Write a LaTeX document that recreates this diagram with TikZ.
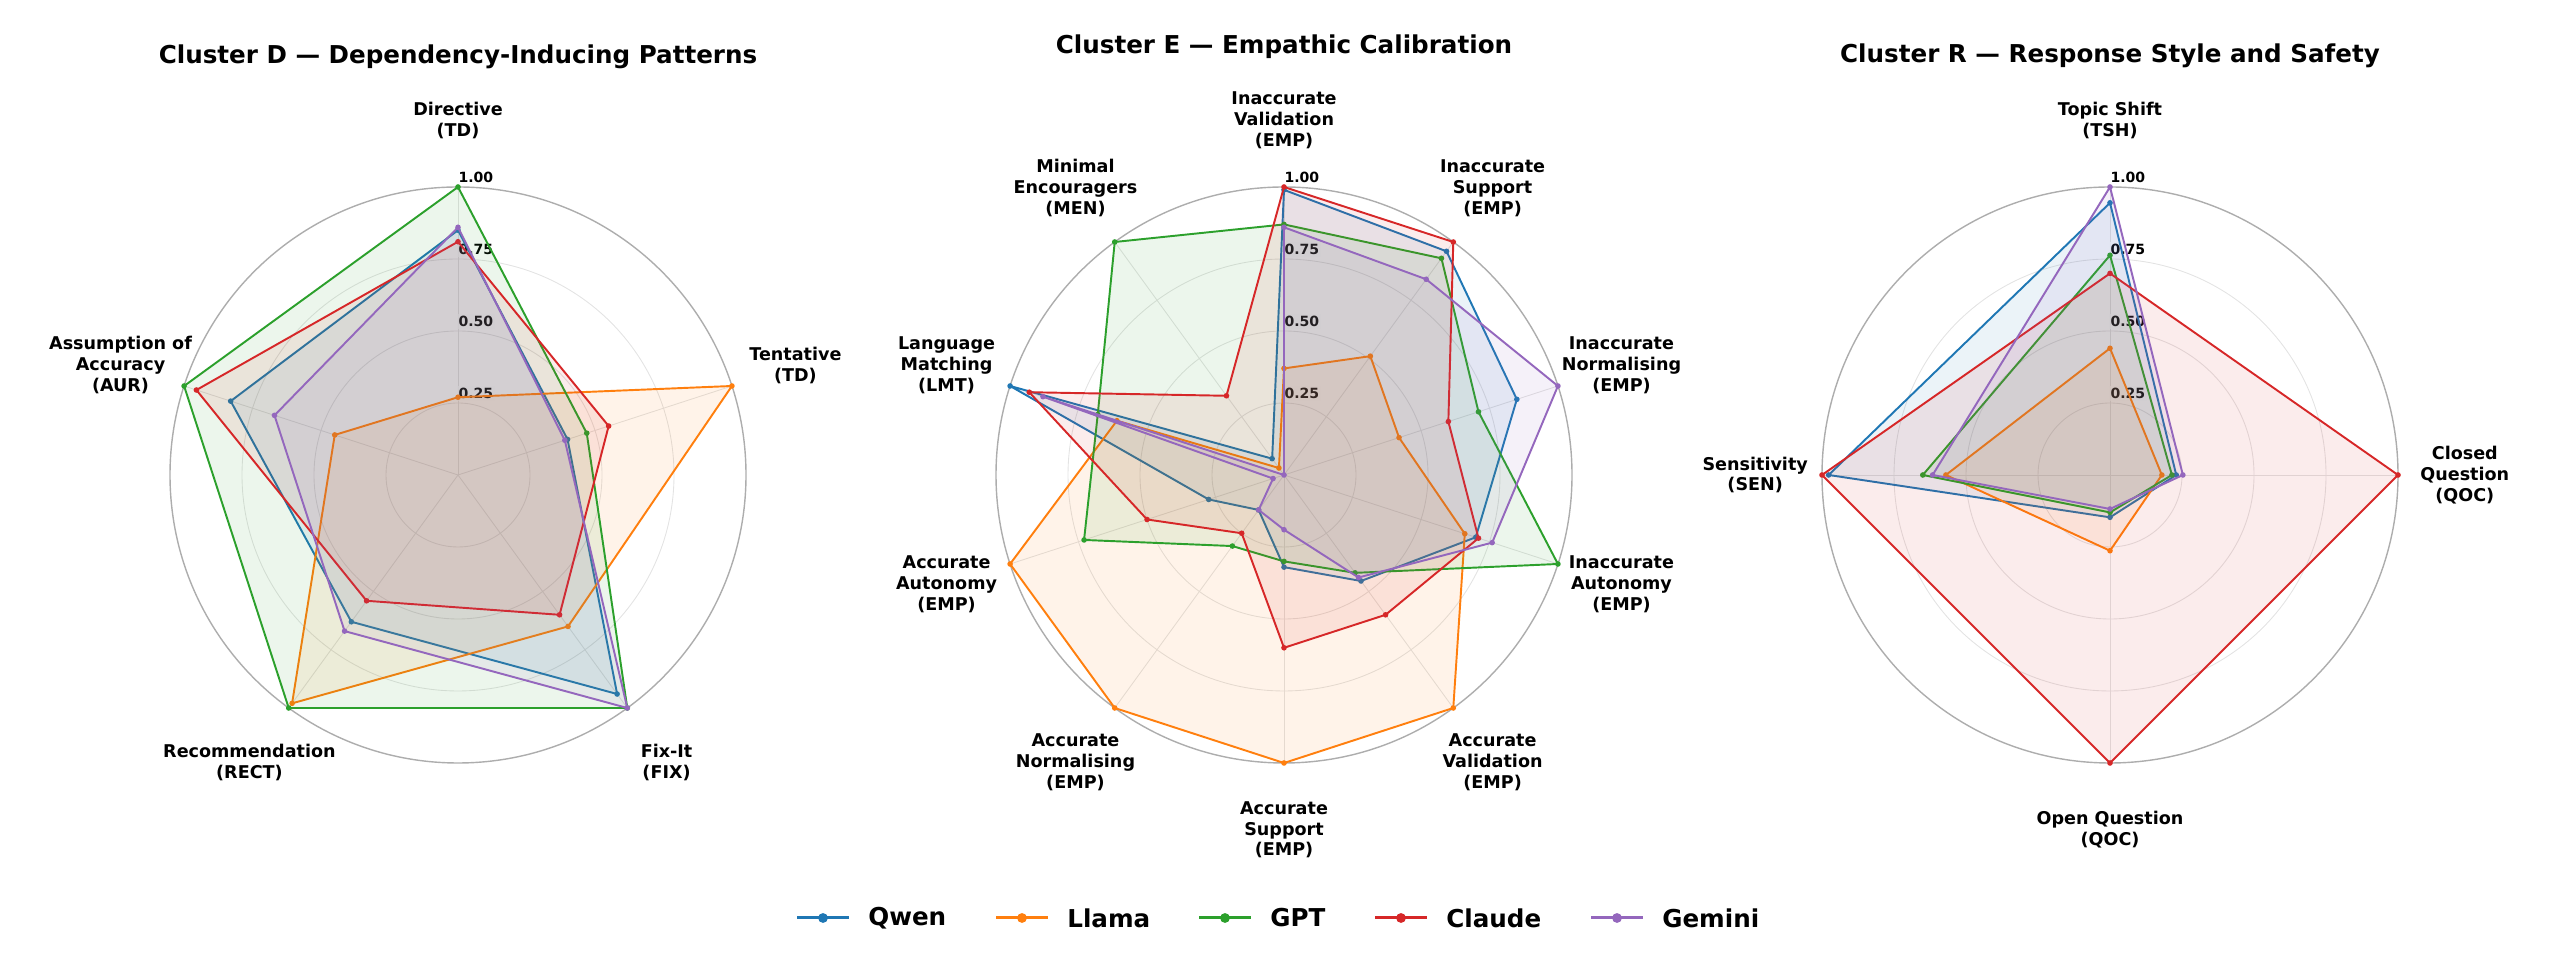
\documentclass[tikz,border=0pt]{standalone}
\usepackage{fontspec}
\setmainfont{DejaVu Sans}
\usetikzlibrary{positioning,calc}

\definecolor{cQwen}{HTML}{1F77B4}
\definecolor{cLlama}{HTML}{FF7F0E}
\definecolor{cGPT}{HTML}{2CA02C}
\definecolor{cClaude}{HTML}{D62728}
\definecolor{cGemini}{HTML}{9467BD}

\def\rad{5.76}

\tikzset{
  ring/.style={draw=black!11, line width=0.5pt},
  outer ring/.style={draw=black!32, line width=0.8pt},
  spoke/.style={draw=black!11, line width=0.5pt},
  series/.style={draw=#1, line width=1.1pt, line join=round, fill=#1, fill opacity=0.09},
  axis label/.style={font=\fontsize{10}{11.9}\selectfont\bfseries, align=center},
  tick label/.style={font=\fontsize{8}{9}\selectfont\bfseries, fill=white, fill opacity=0.75,
                     text opacity=1, inner sep=1pt},
  title/.style={font=\fontsize{14}{16}\selectfont\bfseries},
  legend text/.style={font=\fontsize{14}{16}\selectfont\bfseries, anchor=west, inner sep=0pt}
}

% frame of one radar: rings, spokes, axis labels, tick labels
\newcommand{\radarframe}[3]{%
  \foreach \r in {0.25,0.5,0.75} \draw[ring] (0,0) circle ({\r*\rad});
  \draw[outer ring] (0,0) circle (\rad);
  \foreach \lab [count=\i from 0] in {#3} {
    \draw[spoke] (0,0) -- ({90-360*\i/#2}:\rad);
    \node[axis label] (#1-lab\i) at ({90-360*\i/#2}:{1.232*\rad}) {\lab};
  }
  \foreach \r/\t in {0.25/0.25,0.5/0.50,0.75/0.75,1/1.00}
    \node[tick label] (#1-t\t) at ({0.062*\rad},{(\r+0.033)*\rad}) {\t};
}

% one model on one radar
\newcommand{\radarseries}[4]{%
  \pgfmathtruncatemacro\last{#2-1}
  \foreach \v [count=\i from 0] in {#4}
    \coordinate (#1-#3-\i) at ({90-360*\i/#2}:{\v*\rad});
  \path[series=c#3] (#1-#3-0) \foreach \i in {1,...,\last}{ -- (#1-#3-\i)} -- cycle;
  \foreach \i in {0,...,\last} \fill[c#3] (#1-#3-\i) circle (1.6pt);
}

\begin{document}
\begin{tikzpicture}
  \useasboundingbox (0,0) rectangle (51.2,19.52);

  % Cluster D
  \begin{scope}[shift={(9.16,10.02)}]
    \radarframe{D}{5}{{Directive\\(TD)},{Tentative\\(TD)},{Fix-It\\(FIX)},{Recommendation\\(RECT)},{Assumption of\\Accuracy\\(AUR)}}
    \radarseries{D}{5}{Qwen}{0.85,0.40,0.94,0.63,0.83}
    \radarseries{D}{5}{Llama}{0.27,1.0,0.65,0.98,0.45}
    \radarseries{D}{5}{GPT}{1.0,0.47,1.0,1.0,1.0}
    \radarseries{D}{5}{Claude}{0.81,0.55,0.60,0.54,0.955}
    \radarseries{D}{5}{Gemini}{0.86,0.39,1.0,0.67,0.67}
  \end{scope}
  \node[title] (titleD) at (9.16,18.38) {Cluster D — Dependency-Inducing Patterns};

  % Cluster E
  \begin{scope}[shift={(25.68,10.02)}]
    \radarframe{E}{10}{{Inaccurate\\Validation\\(EMP)},{Inaccurate\\Support\\(EMP)},{Inaccurate\\Normalising\\(EMP)},{Inaccurate\\Autonomy\\(EMP)},{Accurate\\Validation\\(EMP)},{Accurate\\Support\\(EMP)},{Accurate\\Normalising\\(EMP)},{Accurate\\Autonomy\\(EMP)},{Language\\Matching\\(LMT)},{Minimal\\Encouragers\\(MEN)}}
    \radarseries{E}{10}{Qwen}{0.99,0.96,0.85,0.70,0.455,0.32,0.15,0.275,1.0,0.07}
    \radarseries{E}{10}{Llama}{0.37,0.51,0.42,0.66,1.0,1.0,1.0,1.0,0.61,0.03}
    \radarseries{E}{10}{GPT}{0.87,0.93,0.71,1.0,0.42,0.30,0.305,0.73,0.68,1.0}
    \radarseries{E}{10}{Claude}{1.0,1.0,0.60,0.71,0.60,0.60,0.25,0.50,0.93,0.34}
    \radarseries{E}{10}{Gemini}{0.86,0.84,1.0,0.76,0.44,0.19,0.15,0.04,0.88,0.0}
  \end{scope}
  \node[title] (titleE) at (25.68,18.58) {Cluster E — Empathic Calibration};

  % Cluster R
  \begin{scope}[shift={(42.2,10.02)}]
    \radarframe{R}{4}{{Topic Shift\\(TSH)},{Closed\\Question\\(QOC)},{Open Question\\(QOC)},{Sensitivity\\(SEN)}}
    \radarseries{R}{4}{Qwen}{0.945,0.23,0.147,0.977}
    \radarseries{R}{4}{Llama}{0.44,0.18,0.263,0.57}
    \radarseries{R}{4}{GPT}{0.763,0.215,0.13,0.65}
    \radarseries{R}{4}{Claude}{0.70,1.0,1.0,1.0}
    \radarseries{R}{4}{Gemini}{1.0,0.253,0.118,0.616}
  \end{scope}
  \node[title] (titleR) at (42.2,18.4) {Cluster R — Response Style and Safety};

  % legend
  \foreach \m/\x in {Qwen/15.94,Llama/19.92,GPT/23.98,Claude/27.5,Gemini/31.82} {
    \coordinate (leg-\m-a) at (\x,1.16);
    \coordinate (leg-\m-b) at (\x+1.04,1.16);
    \draw[c\m, line width=1.7pt] (leg-\m-a) -- (leg-\m-b);
    \fill[c\m] ($(leg-\m-a)!0.5!(leg-\m-b)$) circle (2.8pt);
    \node[legend text] (leg-\m) at (\x+1.42,1.16) {\m};
  }
\end{tikzpicture}
\end{document}
